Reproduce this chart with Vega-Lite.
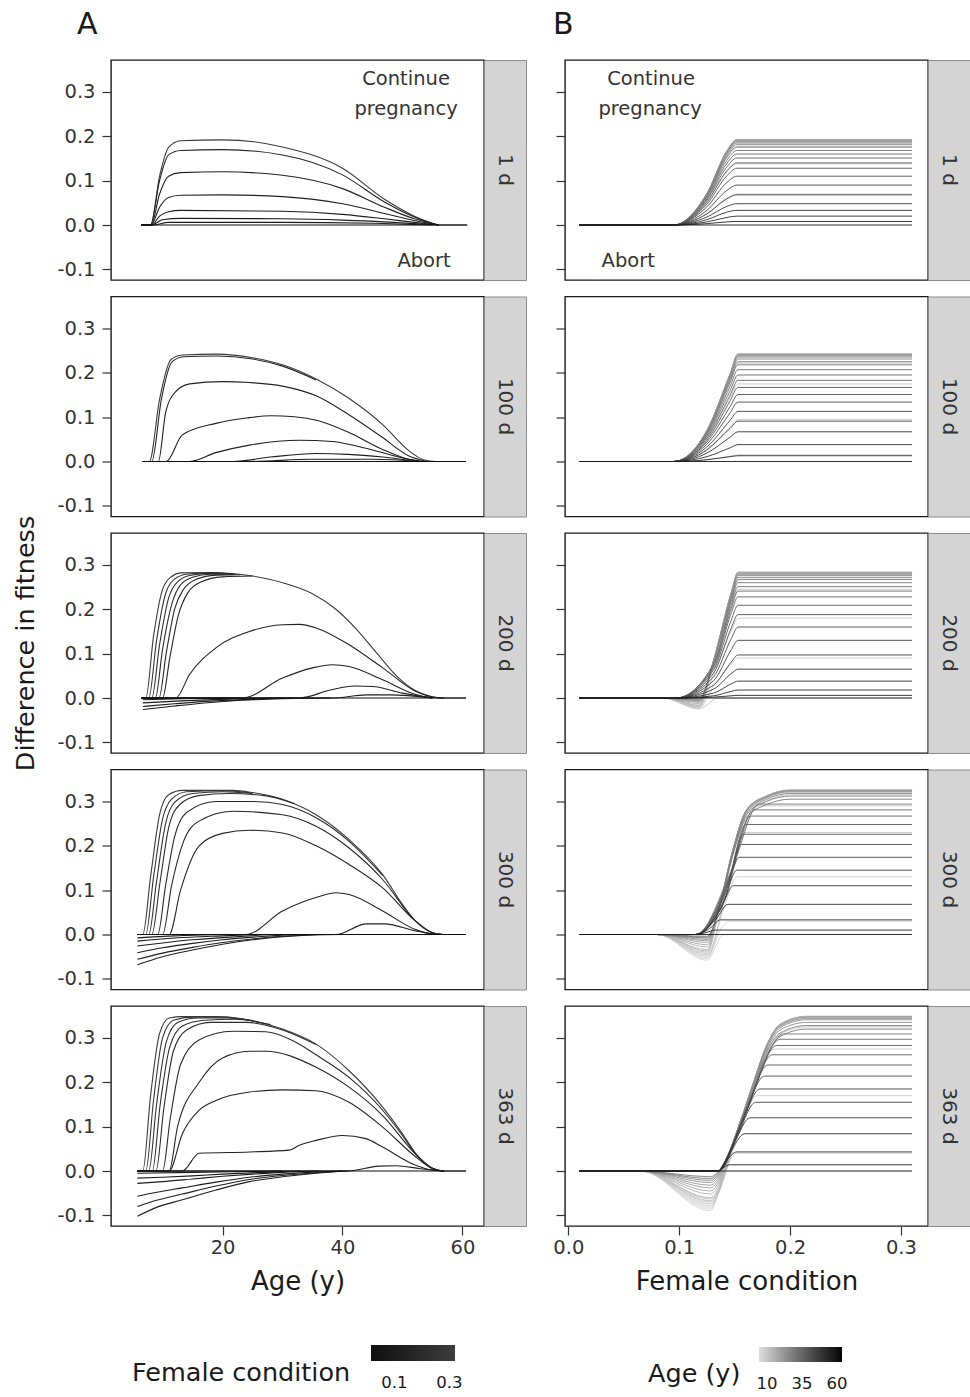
{
"$schema":"https://vega.github.io/schema/vega-lite/v6.json",
"background":"white",
"padding":{"left":13,"top":9,"right":0,"bottom":0},
"config":{"font":"DejaVu Sans","axis":{"grid":false,"domain":false,"tickColor":"#333","labelColor":"#333","titleColor":"#1a1a1a","labelFont":"DejaVu Sans","titleFont":"DejaVu Sans","titleFontWeight":"normal","labelFontSize":19.5,"tickSize":9,"tickWidth":1.2,"labelPadding":7},"legend":{"labelFont":"DejaVu Sans","titleFont":"DejaVu Sans"},"title":{"font":"DejaVu Sans"}},
"datasets":{
"A1":[
{"c":0.31,"a":6.4,"y":0},{"c":0.31,"a":8,"y":0},{"c":0.31,"a":9.5,"y":0.11},{"c":0.31,"a":11,"y":0.175},{"c":0.31,"a":13,"y":0.19},{"c":0.31,"a":20,"y":0.192},{"c":0.31,"a":30,"y":0.176},{"c":0.31,"a":40,"y":0.128},{"c":0.31,"a":47,"y":0.058},{"c":0.31,"a":52,"y":0.02},{"c":0.31,"a":56,"y":0},{"c":0.31,"a":60.8,"y":0},
{"c":0.15,"a":6.4,"y":0},{"c":0.15,"a":8,"y":0},{"c":0.15,"a":9.5,"y":0.1},{"c":0.15,"a":11,"y":0.158},{"c":0.15,"a":13,"y":0.168},{"c":0.15,"a":20,"y":0.17},{"c":0.15,"a":30,"y":0.158},{"c":0.15,"a":40,"y":0.113},{"c":0.15,"a":47,"y":0.052},{"c":0.15,"a":52,"y":0.018},{"c":0.15,"a":56,"y":0},
{"c":0.14,"a":6.4,"y":0},{"c":0.14,"a":8.1,"y":0},{"c":0.14,"a":9.5,"y":0.07},{"c":0.14,"a":11,"y":0.11},{"c":0.14,"a":13,"y":0.118},{"c":0.14,"a":20,"y":0.12},{"c":0.14,"a":30,"y":0.112},{"c":0.14,"a":40,"y":0.082},{"c":0.14,"a":47,"y":0.04},{"c":0.14,"a":52,"y":0.014},{"c":0.14,"a":56,"y":0},
{"c":0.13,"a":6.4,"y":0},{"c":0.13,"a":8.1,"y":0},{"c":0.13,"a":9.5,"y":0.04},{"c":0.13,"a":11,"y":0.062},{"c":0.13,"a":13,"y":0.067},{"c":0.13,"a":20,"y":0.068},{"c":0.13,"a":30,"y":0.064},{"c":0.13,"a":40,"y":0.048},{"c":0.13,"a":47,"y":0.026},{"c":0.13,"a":52,"y":0.01},{"c":0.13,"a":56,"y":0},
{"c":0.12,"a":6.4,"y":0},{"c":0.12,"a":8.2,"y":0},{"c":0.12,"a":9.5,"y":0.02},{"c":0.12,"a":11,"y":0.03},{"c":0.12,"a":13,"y":0.033},{"c":0.12,"a":30,"y":0.031},{"c":0.12,"a":40,"y":0.024},{"c":0.12,"a":47,"y":0.014},{"c":0.12,"a":52,"y":0.006},{"c":0.12,"a":56,"y":0},
{"c":0.11,"a":6.4,"y":0},{"c":0.11,"a":8.2,"y":0},{"c":0.11,"a":10,"y":0.012},{"c":0.11,"a":13,"y":0.015},{"c":0.11,"a":30,"y":0.014},{"c":0.11,"a":40,"y":0.011},{"c":0.11,"a":47,"y":0.007},{"c":0.11,"a":52,"y":0.003},{"c":0.11,"a":56,"y":0},
{"c":0.1,"a":6.4,"y":0},{"c":0.1,"a":8.3,"y":0},{"c":0.1,"a":11,"y":0.006},{"c":0.1,"a":30,"y":0.006},{"c":0.1,"a":45,"y":0.004},{"c":0.1,"a":55,"y":0},
{"c":0.01,"a":6.4,"y":0},{"c":0.01,"a":60.8,"y":0}
],
"A2":[
{"c":0.31,"a":6.7,"y":0},{"c":0.31,"a":7.8,"y":0},{"c":0.31,"a":9.5,"y":0.14},{"c":0.31,"a":11.4,"y":0.23},{"c":0.31,"a":13.3,"y":0.24},{"c":0.31,"a":19,"y":0.242},{"c":0.31,"a":25,"y":0.234},{"c":0.31,"a":30,"y":0.218},{"c":0.31,"a":35.6,"y":0.186},{"c":0.31,"a":41,"y":0.143},{"c":0.31,"a":46.7,"y":0.083},{"c":0.31,"a":51,"y":0.025},{"c":0.31,"a":53.5,"y":0.004},{"c":0.31,"a":55.5,"y":0},{"c":0.31,"a":60.6,"y":0},
{"c":0.16,"a":6.7,"y":0},{"c":0.16,"a":8.2,"y":0},{"c":0.16,"a":9.8,"y":0.14},{"c":0.16,"a":11.6,"y":0.225},{"c":0.16,"a":13.5,"y":0.236},{"c":0.16,"a":19,"y":0.238},{"c":0.16,"a":25,"y":0.231},{"c":0.16,"a":30,"y":0.215},{"c":0.16,"a":35.6,"y":0.184},
{"c":0.14,"a":6.7,"y":0},{"c":0.14,"a":9.3,"y":0},{"c":0.14,"a":10.5,"y":0.11},{"c":0.14,"a":11.7,"y":0.15},{"c":0.14,"a":14.5,"y":0.175},{"c":0.14,"a":20,"y":0.18},{"c":0.14,"a":24.5,"y":0.178},{"c":0.14,"a":30,"y":0.17},{"c":0.14,"a":35.6,"y":0.148},{"c":0.14,"a":41,"y":0.106},{"c":0.14,"a":46.7,"y":0.054},{"c":0.14,"a":51,"y":0.013},{"c":0.14,"a":54,"y":0},
{"c":0.13,"a":6.7,"y":0},{"c":0.13,"a":10.6,"y":0},{"c":0.13,"a":13.3,"y":0.06},{"c":0.13,"a":18.9,"y":0.086},{"c":0.13,"a":24,"y":0.098},{"c":0.13,"a":28,"y":0.103},{"c":0.13,"a":32,"y":0.101},{"c":0.13,"a":36,"y":0.092},{"c":0.13,"a":41,"y":0.066},{"c":0.13,"a":46.7,"y":0.027},{"c":0.13,"a":51,"y":0.005},{"c":0.13,"a":53,"y":0},
{"c":0.12,"a":6.7,"y":0},{"c":0.12,"a":14.5,"y":0},{"c":0.12,"a":18.9,"y":0.02},{"c":0.12,"a":24.5,"y":0.037},{"c":0.12,"a":32.8,"y":0.048},{"c":0.12,"a":38.3,"y":0.045},{"c":0.12,"a":43.9,"y":0.03},{"c":0.12,"a":49.4,"y":0.01},{"c":0.12,"a":53,"y":0},
{"c":0.11,"a":6.7,"y":0},{"c":0.11,"a":21.7,"y":0},{"c":0.11,"a":28,"y":0.01},{"c":0.11,"a":35.6,"y":0.018},{"c":0.11,"a":41,"y":0.016},{"c":0.11,"a":46.7,"y":0.01},{"c":0.11,"a":52,"y":0.002},{"c":0.11,"a":54,"y":0},
{"c":0.1,"a":6.7,"y":0},{"c":0.1,"a":24.5,"y":0},{"c":0.1,"a":35,"y":0.005},{"c":0.1,"a":45,"y":0.005},{"c":0.1,"a":53,"y":0},
{"c":0.01,"a":6.7,"y":0},{"c":0.01,"a":60.6,"y":0}
],
"A3":[
{"c":0.31,"a":6.5,"y":0},{"c":0.31,"a":7.2,"y":0},{"c":0.31,"a":8.5,"y":0.14},{"c":0.31,"a":10,"y":0.245},{"c":0.31,"a":11.5,"y":0.274},{"c":0.31,"a":13,"y":0.282},{"c":0.31,"a":18,"y":0.283},{"c":0.31,"a":25,"y":0.275},{"c":0.31,"a":30,"y":0.26},{"c":0.31,"a":35,"y":0.235},{"c":0.31,"a":38.9,"y":0.2},{"c":0.31,"a":42,"y":0.16},{"c":0.31,"a":45.8,"y":0.1},{"c":0.31,"a":49,"y":0.05},{"c":0.31,"a":52,"y":0.018},{"c":0.31,"a":55,"y":0.003},{"c":0.31,"a":56.5,"y":0},{"c":0.31,"a":60.6,"y":0},
{"c":0.26,"a":6.5,"y":0},{"c":0.26,"a":7.7,"y":0},{"c":0.26,"a":9,"y":0.13},{"c":0.26,"a":10.5,"y":0.235},{"c":0.26,"a":12,"y":0.268},{"c":0.26,"a":14,"y":0.279},{"c":0.26,"a":18,"y":0.282},{"c":0.26,"a":22,"y":0.279},
{"c":0.22,"a":6.5,"y":0},{"c":0.22,"a":8.2,"y":0},{"c":0.22,"a":9.5,"y":0.12},{"c":0.22,"a":11,"y":0.225},{"c":0.22,"a":12.5,"y":0.262},{"c":0.22,"a":14.5,"y":0.276},{"c":0.22,"a":18,"y":0.281},{"c":0.22,"a":22,"y":0.279},
{"c":0.19,"a":6.5,"y":0},{"c":0.19,"a":8.8,"y":0},{"c":0.19,"a":10,"y":0.11},{"c":0.19,"a":11.5,"y":0.21},{"c":0.19,"a":13,"y":0.255},{"c":0.19,"a":15,"y":0.272},{"c":0.19,"a":18,"y":0.279},{"c":0.19,"a":22,"y":0.279},
{"c":0.17,"a":6.5,"y":0},{"c":0.17,"a":9.4,"y":0},{"c":0.17,"a":10.6,"y":0.1},{"c":0.17,"a":12,"y":0.2},{"c":0.17,"a":13.5,"y":0.245},{"c":0.17,"a":15.5,"y":0.267},{"c":0.17,"a":19,"y":0.277},{"c":0.17,"a":23,"y":0.278},
{"c":0.16,"a":6.5,"y":0},{"c":0.16,"a":10,"y":0},{"c":0.16,"a":11.2,"y":0.09},{"c":0.16,"a":12.6,"y":0.185},{"c":0.16,"a":14.2,"y":0.237},{"c":0.16,"a":16.5,"y":0.262},{"c":0.16,"a":20,"y":0.273},{"c":0.16,"a":25,"y":0.275},
{"c":0.15,"a":6.5,"y":0},{"c":0.15,"a":12.2,"y":0},{"c":0.15,"a":14.5,"y":0.053},{"c":0.15,"a":18.9,"y":0.113},{"c":0.15,"a":24.5,"y":0.15},{"c":0.15,"a":30,"y":0.165},{"c":0.15,"a":32.8,"y":0.166},{"c":0.15,"a":35.6,"y":0.158},{"c":0.15,"a":41.1,"y":0.12},{"c":0.15,"a":46.7,"y":0.068},{"c":0.15,"a":52.2,"y":0.015},{"c":0.15,"a":55,"y":0.002},{"c":0.15,"a":57,"y":0},
{"c":0.14,"a":6.5,"y":0},{"c":0.14,"a":23.3,"y":0},{"c":0.14,"a":30,"y":0.045},{"c":0.14,"a":35,"y":0.068},{"c":0.14,"a":38.3,"y":0.075},{"c":0.14,"a":41.1,"y":0.071},{"c":0.14,"a":46.7,"y":0.041},{"c":0.14,"a":52.2,"y":0.008},{"c":0.14,"a":55,"y":0},
{"c":0.13,"a":6.5,"y":0},{"c":0.13,"a":32.8,"y":0},{"c":0.13,"a":38,"y":0.018},{"c":0.13,"a":42,"y":0.027},{"c":0.13,"a":45,"y":0.026},{"c":0.13,"a":50,"y":0.011},{"c":0.13,"a":55,"y":0},
{"c":0.12,"a":6.5,"y":0},{"c":0.12,"a":38.3,"y":0},{"c":0.12,"a":44,"y":0.007},{"c":0.12,"a":48,"y":0.007},{"c":0.12,"a":55,"y":0},
{"c":0.11,"a":6.7,"y":-0.026},{"c":0.11,"a":12,"y":-0.018},{"c":0.11,"a":18,"y":-0.01},{"c":0.11,"a":25,"y":-0.004},{"c":0.11,"a":32,"y":-0.001},{"c":0.11,"a":38,"y":0},
{"c":0.1,"a":6.7,"y":-0.019},{"c":0.1,"a":12,"y":-0.013},{"c":0.1,"a":18,"y":-0.007},{"c":0.1,"a":25,"y":-0.003},{"c":0.1,"a":32,"y":0},
{"c":0.09,"a":6.7,"y":-0.011},{"c":0.09,"a":14,"y":-0.006},{"c":0.09,"a":22,"y":-0.002},{"c":0.09,"a":30,"y":0},
{"c":0.08,"a":6.7,"y":-0.004},{"c":0.08,"a":15,"y":-0.001},{"c":0.08,"a":22,"y":0},
{"c":0.01,"a":6.5,"y":0},{"c":0.01,"a":60.6,"y":0}
],
"A4":[
{"c":0.31,"a":5.8,"y":0},{"c":0.31,"a":6.7,"y":0},{"c":0.31,"a":8,"y":0.13},{"c":0.31,"a":9.5,"y":0.27},{"c":0.31,"a":11,"y":0.315},{"c":0.31,"a":13.3,"y":0.325},{"c":0.31,"a":21.7,"y":0.325},{"c":0.31,"a":25,"y":0.32},{"c":0.31,"a":30,"y":0.305},{"c":0.31,"a":35.6,"y":0.27},{"c":0.31,"a":41.1,"y":0.214},{"c":0.31,"a":46.7,"y":0.135},{"c":0.31,"a":50,"y":0.068},{"c":0.31,"a":52.2,"y":0.03},{"c":0.31,"a":55,"y":0.004},{"c":0.31,"a":56.7,"y":0},{"c":0.31,"a":60.6,"y":0},
{"c":0.27,"a":5.8,"y":0},{"c":0.27,"a":7.2,"y":0},{"c":0.27,"a":8.5,"y":0.13},{"c":0.27,"a":10,"y":0.26},{"c":0.27,"a":11.5,"y":0.305},{"c":0.27,"a":14,"y":0.322},{"c":0.27,"a":20,"y":0.324},{"c":0.27,"a":25,"y":0.319},
{"c":0.24,"a":5.8,"y":0},{"c":0.24,"a":7.7,"y":0},{"c":0.24,"a":9,"y":0.12},{"c":0.24,"a":10.5,"y":0.25},{"c":0.24,"a":12,"y":0.298},{"c":0.24,"a":15,"y":0.318},{"c":0.24,"a":20,"y":0.322},{"c":0.24,"a":25,"y":0.318},
{"c":0.21,"a":5.8,"y":0},{"c":0.21,"a":8.2,"y":0},{"c":0.21,"a":9.6,"y":0.12},{"c":0.21,"a":11,"y":0.24},{"c":0.21,"a":12.8,"y":0.292},{"c":0.21,"a":16,"y":0.313},{"c":0.21,"a":21,"y":0.318},{"c":0.21,"a":27,"y":0.313},{"c":0.21,"a":32,"y":0.295},
{"c":0.18,"a":5.8,"y":0},{"c":0.18,"a":9.2,"y":0},{"c":0.18,"a":10.5,"y":0.11},{"c":0.18,"a":12,"y":0.22},{"c":0.18,"a":14,"y":0.275},{"c":0.18,"a":18.9,"y":0.3},{"c":0.18,"a":25,"y":0.3},{"c":0.18,"a":30,"y":0.293},{"c":0.18,"a":35.6,"y":0.263},{"c":0.18,"a":41.1,"y":0.21},{"c":0.18,"a":46.7,"y":0.133},
{"c":0.17,"a":5.8,"y":0},{"c":0.17,"a":10,"y":0},{"c":0.17,"a":11.5,"y":0.11},{"c":0.17,"a":13.5,"y":0.21},{"c":0.17,"a":16,"y":0.255},{"c":0.17,"a":21.7,"y":0.278},{"c":0.17,"a":30,"y":0.27},{"c":0.17,"a":35.6,"y":0.244},{"c":0.17,"a":41.1,"y":0.195},{"c":0.17,"a":46.7,"y":0.124},{"c":0.17,"a":52.2,"y":0.03},{"c":0.17,"a":55,"y":0.004},{"c":0.17,"a":56.7,"y":0},
{"c":0.16,"a":5.8,"y":0},{"c":0.16,"a":11.1,"y":0},{"c":0.16,"a":13,"y":0.1},{"c":0.16,"a":16.1,"y":0.2},{"c":0.16,"a":20,"y":0.228},{"c":0.16,"a":24.5,"y":0.235},{"c":0.16,"a":30,"y":0.229},{"c":0.16,"a":35.6,"y":0.2},{"c":0.16,"a":41.1,"y":0.158},{"c":0.16,"a":46.7,"y":0.105},{"c":0.16,"a":52.2,"y":0.03},{"c":0.16,"a":55,"y":0.004},{"c":0.16,"a":56.7,"y":0},
{"c":0.15,"a":5.8,"y":0},{"c":0.15,"a":23.9,"y":0},{"c":0.15,"a":30,"y":0.053},{"c":0.15,"a":36,"y":0.085},{"c":0.15,"a":38.9,"y":0.094},{"c":0.15,"a":41.1,"y":0.09},{"c":0.15,"a":46.7,"y":0.053},{"c":0.15,"a":52.2,"y":0.011},{"c":0.15,"a":55,"y":0.001},{"c":0.15,"a":57,"y":0},
{"c":0.14,"a":5.8,"y":0},{"c":0.14,"a":38.9,"y":0},{"c":0.14,"a":44,"y":0.024},{"c":0.14,"a":47,"y":0.024},{"c":0.14,"a":52.2,"y":0.008},{"c":0.14,"a":56,"y":0},
{"c":0.13,"a":5.8,"y":-0.068},{"c":0.13,"a":10,"y":-0.05},{"c":0.13,"a":15,"y":-0.035},{"c":0.13,"a":20,"y":-0.022},{"c":0.13,"a":25,"y":-0.012},{"c":0.13,"a":30,"y":-0.005},{"c":0.13,"a":35,"y":-0.001},{"c":0.13,"a":40,"y":0},
{"c":0.12,"a":5.8,"y":-0.056},{"c":0.12,"a":10,"y":-0.042},{"c":0.12,"a":15,"y":-0.029},{"c":0.12,"a":20,"y":-0.018},{"c":0.12,"a":25,"y":-0.01},{"c":0.12,"a":30,"y":-0.004},{"c":0.12,"a":36,"y":0},
{"c":0.11,"a":5.8,"y":-0.041},{"c":0.11,"a":10,"y":-0.03},{"c":0.11,"a":15,"y":-0.02},{"c":0.11,"a":20,"y":-0.012},{"c":0.11,"a":25,"y":-0.006},{"c":0.11,"a":32,"y":0},
{"c":0.1,"a":5.8,"y":-0.026},{"c":0.1,"a":10,"y":-0.019},{"c":0.1,"a":15,"y":-0.012},{"c":0.1,"a":20,"y":-0.007},{"c":0.1,"a":28,"y":0},
{"c":0.09,"a":5.8,"y":-0.015},{"c":0.09,"a":12,"y":-0.008},{"c":0.09,"a":20,"y":-0.003},{"c":0.09,"a":26,"y":0},
{"c":0.08,"a":5.8,"y":-0.0075},{"c":0.08,"a":12,"y":-0.003},{"c":0.08,"a":20,"y":0},
{"c":0.01,"a":5.8,"y":0},{"c":0.01,"a":60.6,"y":0}
],
"A5":[
{"c":0.31,"a":5.8,"y":0},{"c":0.31,"a":6.7,"y":0},{"c":0.31,"a":8,"y":0.17},{"c":0.31,"a":9.5,"y":0.31},{"c":0.31,"a":11.1,"y":0.345},{"c":0.31,"a":13.3,"y":0.348},{"c":0.31,"a":18.9,"y":0.348},{"c":0.31,"a":24.5,"y":0.34},{"c":0.31,"a":30,"y":0.32},{"c":0.31,"a":35.6,"y":0.286},{"c":0.31,"a":41.1,"y":0.226},{"c":0.31,"a":46.7,"y":0.144},{"c":0.31,"a":50,"y":0.084},{"c":0.31,"a":52.2,"y":0.04},{"c":0.31,"a":55,"y":0.006},{"c":0.31,"a":56.7,"y":0},{"c":0.31,"a":60.6,"y":0},
{"c":0.28,"a":5.8,"y":0},{"c":0.28,"a":7.2,"y":0},{"c":0.28,"a":8.5,"y":0.16},{"c":0.28,"a":10,"y":0.3},{"c":0.28,"a":11.8,"y":0.34},{"c":0.28,"a":15,"y":0.347},{"c":0.28,"a":20,"y":0.347},{"c":0.28,"a":25,"y":0.339},
{"c":0.25,"a":5.8,"y":0},{"c":0.25,"a":7.7,"y":0},{"c":0.25,"a":9,"y":0.15},{"c":0.25,"a":10.6,"y":0.29},{"c":0.25,"a":12.5,"y":0.335},{"c":0.25,"a":16,"y":0.345},{"c":0.25,"a":21,"y":0.345},{"c":0.25,"a":26,"y":0.336},
{"c":0.22,"a":5.8,"y":0},{"c":0.22,"a":8.3,"y":0},{"c":0.22,"a":9.6,"y":0.15},{"c":0.22,"a":11.2,"y":0.28},{"c":0.22,"a":13.3,"y":0.327},{"c":0.22,"a":17,"y":0.34},{"c":0.22,"a":22,"y":0.342},{"c":0.22,"a":28,"y":0.33},
{"c":0.2,"a":5.8,"y":0},{"c":0.2,"a":8.9,"y":0},{"c":0.2,"a":10.2,"y":0.14},{"c":0.2,"a":11.8,"y":0.27},{"c":0.2,"a":14,"y":0.318},{"c":0.2,"a":18,"y":0.335},{"c":0.2,"a":24,"y":0.335},{"c":0.2,"a":30,"y":0.318},{"c":0.2,"a":35.6,"y":0.285},
{"c":0.18,"a":5.8,"y":0},{"c":0.18,"a":10,"y":0},{"c":0.18,"a":11.3,"y":0.12},{"c":0.18,"a":13,"y":0.24},{"c":0.18,"a":16,"y":0.295},{"c":0.18,"a":21.7,"y":0.315},{"c":0.18,"a":27.2,"y":0.314},{"c":0.18,"a":32,"y":0.292},{"c":0.18,"a":35.6,"y":0.262},{"c":0.18,"a":41.1,"y":0.211},{"c":0.18,"a":46.7,"y":0.137},{"c":0.18,"a":50,"y":0.08},{"c":0.18,"a":52.2,"y":0.038},{"c":0.18,"a":55,"y":0.006},{"c":0.18,"a":56.7,"y":0},
{"c":0.17,"a":5.8,"y":0},{"c":0.17,"a":11.1,"y":0},{"c":0.17,"a":12.5,"y":0.1},{"c":0.17,"a":16.1,"y":0.2},{"c":0.17,"a":20,"y":0.255},{"c":0.17,"a":24.5,"y":0.27},{"c":0.17,"a":27.2,"y":0.27},{"c":0.17,"a":35.6,"y":0.234},{"c":0.17,"a":41.1,"y":0.189},{"c":0.17,"a":46.7,"y":0.125},{"c":0.17,"a":52.2,"y":0.038},{"c":0.17,"a":55,"y":0.006},{"c":0.17,"a":56.7,"y":0},
{"c":0.16,"a":5.8,"y":0},{"c":0.16,"a":11.1,"y":0},{"c":0.16,"a":13.3,"y":0.084},{"c":0.16,"a":16.1,"y":0.137},{"c":0.16,"a":18.9,"y":0.159},{"c":0.16,"a":24.5,"y":0.178},{"c":0.16,"a":30,"y":0.183},{"c":0.16,"a":35.6,"y":0.181},{"c":0.16,"a":41.1,"y":0.155},{"c":0.16,"a":46.7,"y":0.099},{"c":0.16,"a":52.2,"y":0.032},{"c":0.16,"a":55,"y":0.005},{"c":0.16,"a":56.7,"y":0},
{"c":0.15,"a":5.8,"y":0},{"c":0.15,"a":13.3,"y":0},{"c":0.15,"a":16.1,"y":0.04},{"c":0.15,"a":24.5,"y":0.043},{"c":0.15,"a":31.1,"y":0.047},{"c":0.15,"a":32.8,"y":0.058},{"c":0.15,"a":35.6,"y":0.069},{"c":0.15,"a":40,"y":0.08},{"c":0.15,"a":43.9,"y":0.073},{"c":0.15,"a":46.7,"y":0.054},{"c":0.15,"a":52.2,"y":0.013},{"c":0.15,"a":55,"y":0.002},{"c":0.15,"a":57,"y":0},
{"c":0.14,"a":5.8,"y":0},{"c":0.14,"a":41,"y":0},{"c":0.14,"a":46,"y":0.011},{"c":0.14,"a":49,"y":0.012},{"c":0.14,"a":53,"y":0.005},{"c":0.14,"a":57,"y":0},
{"c":0.13,"a":5.8,"y":-0.102},{"c":0.13,"a":9,"y":-0.082},{"c":0.13,"a":13.3,"y":-0.065},{"c":0.13,"a":18.9,"y":-0.043},{"c":0.13,"a":24.5,"y":-0.024},{"c":0.13,"a":30,"y":-0.013},{"c":0.13,"a":35.6,"y":-0.005},{"c":0.13,"a":41,"y":0},
{"c":0.12,"a":5.8,"y":-0.08},{"c":0.12,"a":9,"y":-0.066},{"c":0.12,"a":13.3,"y":-0.052},{"c":0.12,"a":18.9,"y":-0.034},{"c":0.12,"a":24.5,"y":-0.019},{"c":0.12,"a":30,"y":-0.01},{"c":0.12,"a":35.6,"y":-0.004},{"c":0.12,"a":40,"y":0},
{"c":0.11,"a":5.8,"y":-0.057},{"c":0.11,"a":9,"y":-0.048},{"c":0.11,"a":13.3,"y":-0.038},{"c":0.11,"a":18.9,"y":-0.025},{"c":0.11,"a":24.5,"y":-0.014},{"c":0.11,"a":30,"y":-0.007},{"c":0.11,"a":36,"y":-0.002},{"c":0.11,"a":40,"y":0},
{"c":0.1,"a":5.8,"y":-0.028},{"c":0.1,"a":10,"y":-0.024},{"c":0.1,"a":15,"y":-0.018},{"c":0.1,"a":20,"y":-0.012},{"c":0.1,"a":25,"y":-0.007},{"c":0.1,"a":30,"y":-0.003},{"c":0.1,"a":36,"y":0},
{"c":0.09,"a":5.8,"y":-0.016},{"c":0.09,"a":10,"y":-0.014},{"c":0.09,"a":15,"y":-0.011},{"c":0.09,"a":20,"y":-0.007},{"c":0.09,"a":27,"y":-0.003},{"c":0.09,"a":33,"y":0},
{"c":0.08,"a":5.8,"y":-0.005},{"c":0.08,"a":15,"y":-0.003},{"c":0.08,"a":25,"y":-0.001},{"c":0.08,"a":30,"y":0},
{"c":0.01,"a":5.8,"y":0},{"c":0.01,"a":60.6,"y":0}
],
"B1":[
{"a":9,"c":0.01,"y":0},{"a":9,"c":0.095,"y":0},{"a":9,"c":0.125,"y":0.026},{"a":9,"c":0.143,"y":0.061},{"a":9,"c":0.152,"y":0.07},{"a":9,"c":0.31,"y":0.07},
{"a":10,"c":0.01,"y":0},{"a":10,"c":0.095,"y":0},{"a":10,"c":0.125,"y":0.051},{"a":10,"c":0.143,"y":0.12},{"a":10,"c":0.152,"y":0.138},{"a":10,"c":0.31,"y":0.138},
{"a":11,"c":0.01,"y":0},{"a":11,"c":0.095,"y":0},{"a":11,"c":0.125,"y":0.065},{"a":11,"c":0.143,"y":0.152},{"a":11,"c":0.152,"y":0.175},{"a":11,"c":0.31,"y":0.175},
{"a":12,"c":0.01,"y":0},{"a":12,"c":0.095,"y":0},{"a":12,"c":0.125,"y":0.068},{"a":12,"c":0.143,"y":0.161},{"a":12,"c":0.152,"y":0.185},{"a":12,"c":0.31,"y":0.185},
{"a":13,"c":0.01,"y":0},{"a":13,"c":0.095,"y":0},{"a":13,"c":0.125,"y":0.07},{"a":13,"c":0.143,"y":0.165},{"a":13,"c":0.152,"y":0.19},{"a":13,"c":0.31,"y":0.19},
{"a":14,"c":0.01,"y":0},{"a":14,"c":0.095,"y":0},{"a":14,"c":0.125,"y":0.071},{"a":14,"c":0.143,"y":0.166},{"a":14,"c":0.152,"y":0.191},{"a":14,"c":0.31,"y":0.191},
{"a":16,"c":0.01,"y":0},{"a":16,"c":0.095,"y":0},{"a":16,"c":0.125,"y":0.071},{"a":16,"c":0.143,"y":0.168},{"a":16,"c":0.152,"y":0.193},{"a":16,"c":0.31,"y":0.193},
{"a":18,"c":0.01,"y":0},{"a":18,"c":0.095,"y":0},{"a":18,"c":0.125,"y":0.071},{"a":18,"c":0.143,"y":0.167},{"a":18,"c":0.152,"y":0.192},{"a":18,"c":0.31,"y":0.192},
{"a":20,"c":0.01,"y":0},{"a":20,"c":0.095,"y":0},{"a":20,"c":0.125,"y":0.071},{"a":20,"c":0.143,"y":0.166},{"a":20,"c":0.152,"y":0.191},{"a":20,"c":0.31,"y":0.191},
{"a":22,"c":0.01,"y":0},{"a":22,"c":0.095,"y":0},{"a":22,"c":0.125,"y":0.07},{"a":22,"c":0.143,"y":0.165},{"a":22,"c":0.152,"y":0.19},{"a":22,"c":0.31,"y":0.19},
{"a":24,"c":0.01,"y":0},{"a":24,"c":0.095,"y":0},{"a":24,"c":0.125,"y":0.07},{"a":24,"c":0.143,"y":0.164},{"a":24,"c":0.152,"y":0.188},{"a":24,"c":0.31,"y":0.188},
{"a":26,"c":0.01,"y":0},{"a":26,"c":0.095,"y":0},{"a":26,"c":0.125,"y":0.068},{"a":26,"c":0.143,"y":0.161},{"a":26,"c":0.152,"y":0.185},{"a":26,"c":0.31,"y":0.185},
{"a":28,"c":0.01,"y":0},{"a":28,"c":0.095,"y":0},{"a":28,"c":0.125,"y":0.067},{"a":28,"c":0.143,"y":0.157},{"a":28,"c":0.152,"y":0.181},{"a":28,"c":0.31,"y":0.181},
{"a":30,"c":0.01,"y":0},{"a":30,"c":0.095,"y":0},{"a":30,"c":0.125,"y":0.065},{"a":30,"c":0.143,"y":0.153},{"a":30,"c":0.152,"y":0.176},{"a":30,"c":0.31,"y":0.176},
{"a":32,"c":0.01,"y":0},{"a":32,"c":0.095,"y":0},{"a":32,"c":0.125,"y":0.062},{"a":32,"c":0.143,"y":0.146},{"a":32,"c":0.152,"y":0.168},{"a":32,"c":0.31,"y":0.168},
{"a":34,"c":0.01,"y":0},{"a":34,"c":0.095,"y":0},{"a":34,"c":0.125,"y":0.059},{"a":34,"c":0.143,"y":0.139},{"a":34,"c":0.152,"y":0.16},{"a":34,"c":0.31,"y":0.16},
{"a":36,"c":0.01,"y":0},{"a":36,"c":0.095,"y":0},{"a":36,"c":0.125,"y":0.056},{"a":36,"c":0.143,"y":0.131},{"a":36,"c":0.152,"y":0.151},{"a":36,"c":0.31,"y":0.151},
{"a":38,"c":0.01,"y":0},{"a":38,"c":0.095,"y":0},{"a":38,"c":0.125,"y":0.052},{"a":38,"c":0.143,"y":0.122},{"a":38,"c":0.152,"y":0.14},{"a":38,"c":0.31,"y":0.14},
{"a":40,"c":0.01,"y":0},{"a":40,"c":0.095,"y":0},{"a":40,"c":0.125,"y":0.047},{"a":40,"c":0.143,"y":0.111},{"a":40,"c":0.152,"y":0.128},{"a":40,"c":0.31,"y":0.128},
{"a":42,"c":0.01,"y":0},{"a":42,"c":0.095,"y":0},{"a":42,"c":0.125,"y":0.041},{"a":42,"c":0.143,"y":0.096},{"a":42,"c":0.152,"y":0.11},{"a":42,"c":0.31,"y":0.11},
{"a":44,"c":0.01,"y":0},{"a":44,"c":0.095,"y":0},{"a":44,"c":0.125,"y":0.033},{"a":44,"c":0.143,"y":0.078},{"a":44,"c":0.152,"y":0.09},{"a":44,"c":0.31,"y":0.09},
{"a":46,"c":0.01,"y":0},{"a":46,"c":0.095,"y":0},{"a":46,"c":0.125,"y":0.025},{"a":46,"c":0.143,"y":0.059},{"a":46,"c":0.152,"y":0.068},{"a":46,"c":0.31,"y":0.068},
{"a":48,"c":0.01,"y":0},{"a":48,"c":0.095,"y":0},{"a":48,"c":0.125,"y":0.018},{"a":48,"c":0.143,"y":0.042},{"a":48,"c":0.152,"y":0.048},{"a":48,"c":0.31,"y":0.048},
{"a":50,"c":0.01,"y":0},{"a":50,"c":0.095,"y":0},{"a":50,"c":0.125,"y":0.012},{"a":50,"c":0.143,"y":0.029},{"a":50,"c":0.152,"y":0.033},{"a":50,"c":0.31,"y":0.033},
{"a":52,"c":0.01,"y":0},{"a":52,"c":0.095,"y":0},{"a":52,"c":0.125,"y":0.007},{"a":52,"c":0.143,"y":0.017},{"a":52,"c":0.152,"y":0.02},{"a":52,"c":0.31,"y":0.02},
{"a":54,"c":0.01,"y":0},{"a":54,"c":0.095,"y":0},{"a":54,"c":0.125,"y":0.003},{"a":54,"c":0.143,"y":0.007},{"a":54,"c":0.152,"y":0.008},{"a":54,"c":0.31,"y":0.008},
{"a":58,"c":0.01,"y":0},{"a":58,"c":0.31,"y":0}
],
"B2":[
{"a":8,"c":0.01,"y":0},{"a":8,"c":0.095,"y":0},{"a":8,"c":0.125,"y":0.004},{"a":8,"c":0.146,"y":0.012},{"a":8,"c":0.153,"y":0.015},{"a":8,"c":0.31,"y":0.015},
{"a":9,"c":0.01,"y":0},{"a":9,"c":0.095,"y":0},{"a":9,"c":0.125,"y":0.028},{"a":9,"c":0.146,"y":0.078},{"a":9,"c":0.153,"y":0.095},{"a":9,"c":0.31,"y":0.095},
{"a":10,"c":0.01,"y":0},{"a":10,"c":0.095,"y":0},{"a":10,"c":0.125,"y":0.051},{"a":10,"c":0.146,"y":0.144},{"a":10,"c":0.153,"y":0.175},{"a":10,"c":0.31,"y":0.175},
{"a":11,"c":0.01,"y":0},{"a":11,"c":0.095,"y":0},{"a":11,"c":0.125,"y":0.064},{"a":11,"c":0.146,"y":0.182},{"a":11,"c":0.153,"y":0.222},{"a":11,"c":0.31,"y":0.222},
{"a":12,"c":0.01,"y":0},{"a":12,"c":0.095,"y":0},{"a":12,"c":0.125,"y":0.068},{"a":12,"c":0.146,"y":0.193},{"a":12,"c":0.153,"y":0.235},{"a":12,"c":0.31,"y":0.235},
{"a":13,"c":0.01,"y":0},{"a":13,"c":0.095,"y":0},{"a":13,"c":0.125,"y":0.07},{"a":13,"c":0.146,"y":0.197},{"a":13,"c":0.153,"y":0.24},{"a":13,"c":0.31,"y":0.24},
{"a":14,"c":0.01,"y":0},{"a":14,"c":0.095,"y":0},{"a":14,"c":0.125,"y":0.07},{"a":14,"c":0.146,"y":0.198},{"a":14,"c":0.153,"y":0.241},{"a":14,"c":0.31,"y":0.241},
{"a":16,"c":0.01,"y":0},{"a":16,"c":0.095,"y":0},{"a":16,"c":0.125,"y":0.07},{"a":16,"c":0.146,"y":0.199},{"a":16,"c":0.153,"y":0.243},{"a":16,"c":0.31,"y":0.243},
{"a":18,"c":0.01,"y":0},{"a":18,"c":0.095,"y":0},{"a":18,"c":0.125,"y":0.07},{"a":18,"c":0.146,"y":0.198},{"a":18,"c":0.153,"y":0.242},{"a":18,"c":0.31,"y":0.242},
{"a":20,"c":0.01,"y":0},{"a":20,"c":0.095,"y":0},{"a":20,"c":0.125,"y":0.07},{"a":20,"c":0.146,"y":0.198},{"a":20,"c":0.153,"y":0.241},{"a":20,"c":0.31,"y":0.241},
{"a":22,"c":0.01,"y":0},{"a":22,"c":0.095,"y":0},{"a":22,"c":0.125,"y":0.069},{"a":22,"c":0.146,"y":0.196},{"a":22,"c":0.153,"y":0.239},{"a":22,"c":0.31,"y":0.239},
{"a":24,"c":0.01,"y":0},{"a":24,"c":0.095,"y":0},{"a":24,"c":0.125,"y":0.068},{"a":24,"c":0.146,"y":0.194},{"a":24,"c":0.153,"y":0.236},{"a":24,"c":0.31,"y":0.236},
{"a":26,"c":0.01,"y":0},{"a":26,"c":0.095,"y":0},{"a":26,"c":0.125,"y":0.067},{"a":26,"c":0.146,"y":0.189},{"a":26,"c":0.153,"y":0.231},{"a":26,"c":0.31,"y":0.231},
{"a":28,"c":0.01,"y":0},{"a":28,"c":0.095,"y":0},{"a":28,"c":0.125,"y":0.065},{"a":28,"c":0.146,"y":0.185},{"a":28,"c":0.153,"y":0.225},{"a":28,"c":0.31,"y":0.225},
{"a":30,"c":0.01,"y":0},{"a":30,"c":0.095,"y":0},{"a":30,"c":0.125,"y":0.063},{"a":30,"c":0.146,"y":0.179},{"a":30,"c":0.153,"y":0.218},{"a":30,"c":0.31,"y":0.218},
{"a":32,"c":0.01,"y":0},{"a":32,"c":0.095,"y":0},{"a":32,"c":0.125,"y":0.06},{"a":32,"c":0.146,"y":0.17},{"a":32,"c":0.153,"y":0.207},{"a":32,"c":0.31,"y":0.207},
{"a":34,"c":0.01,"y":0},{"a":34,"c":0.095,"y":0},{"a":34,"c":0.125,"y":0.057},{"a":34,"c":0.146,"y":0.16},{"a":34,"c":0.153,"y":0.195},{"a":34,"c":0.31,"y":0.195},
{"a":36,"c":0.01,"y":0},{"a":36,"c":0.095,"y":0},{"a":36,"c":0.125,"y":0.053},{"a":36,"c":0.146,"y":0.15},{"a":36,"c":0.153,"y":0.183},{"a":36,"c":0.31,"y":0.183},
{"a":38,"c":0.01,"y":0},{"a":38,"c":0.095,"y":0},{"a":38,"c":0.125,"y":0.048},{"a":38,"c":0.146,"y":0.137},{"a":38,"c":0.153,"y":0.167},{"a":38,"c":0.31,"y":0.167},
{"a":40,"c":0.01,"y":0},{"a":40,"c":0.095,"y":0},{"a":40,"c":0.125,"y":0.044},{"a":40,"c":0.146,"y":0.124},{"a":40,"c":0.153,"y":0.151},{"a":40,"c":0.31,"y":0.151},
{"a":42,"c":0.01,"y":0},{"a":42,"c":0.095,"y":0},{"a":42,"c":0.125,"y":0.039},{"a":42,"c":0.146,"y":0.11},{"a":42,"c":0.153,"y":0.134},{"a":42,"c":0.31,"y":0.134},
{"a":44,"c":0.01,"y":0},{"a":44,"c":0.095,"y":0},{"a":44,"c":0.125,"y":0.033},{"a":44,"c":0.146,"y":0.093},{"a":44,"c":0.153,"y":0.113},{"a":44,"c":0.31,"y":0.113},
{"a":46,"c":0.01,"y":0},{"a":46,"c":0.095,"y":0},{"a":46,"c":0.125,"y":0.026},{"a":46,"c":0.146,"y":0.075},{"a":46,"c":0.153,"y":0.091},{"a":46,"c":0.31,"y":0.091},
{"a":48,"c":0.01,"y":0},{"a":48,"c":0.095,"y":0},{"a":48,"c":0.125,"y":0.019},{"a":48,"c":0.146,"y":0.055},{"a":48,"c":0.153,"y":0.067},{"a":48,"c":0.31,"y":0.067},
{"a":50,"c":0.01,"y":0},{"a":50,"c":0.095,"y":0},{"a":50,"c":0.125,"y":0.011},{"a":50,"c":0.146,"y":0.031},{"a":50,"c":0.153,"y":0.038},{"a":50,"c":0.31,"y":0.038},
{"a":52,"c":0.01,"y":0},{"a":52,"c":0.095,"y":0},{"a":52,"c":0.125,"y":0.004},{"a":52,"c":0.146,"y":0.011},{"a":52,"c":0.153,"y":0.013},{"a":52,"c":0.31,"y":0.013},
{"a":58,"c":0.01,"y":0},{"a":58,"c":0.31,"y":0}
],
"B3":[
{"a":6,"c":0.01,"y":0},{"a":6,"c":0.085,"y":0},{"a":6,"c":0.118,"y":-0.025},{"a":6,"c":0.135,"y":0},{"a":6,"c":0.31,"y":0},
{"a":7,"c":0.01,"y":0},{"a":7,"c":0.085,"y":0},{"a":7,"c":0.118,"y":-0.024},{"a":7,"c":0.135,"y":0},{"a":7,"c":0.31,"y":0},
{"a":8,"c":0.01,"y":0},{"a":8,"c":0.085,"y":0},{"a":8,"c":0.118,"y":-0.023},{"a":8,"c":0.131,"y":0.027},{"a":8,"c":0.147,"y":0.076},{"a":8,"c":0.153,"y":0.09},{"a":8,"c":0.31,"y":0.09},
{"a":9,"c":0.01,"y":0},{"a":9,"c":0.085,"y":0},{"a":9,"c":0.118,"y":-0.022},{"a":9,"c":0.131,"y":0.054},{"a":9,"c":0.147,"y":0.151},{"a":9,"c":0.153,"y":0.18},{"a":9,"c":0.31,"y":0.18},
{"a":10,"c":0.01,"y":0},{"a":10,"c":0.085,"y":0},{"a":10,"c":0.118,"y":-0.021},{"a":10,"c":0.131,"y":0.074},{"a":10,"c":0.147,"y":0.206},{"a":10,"c":0.153,"y":0.245},{"a":10,"c":0.31,"y":0.245},
{"a":11,"c":0.01,"y":0},{"a":11,"c":0.085,"y":0},{"a":11,"c":0.118,"y":-0.02},{"a":11,"c":0.131,"y":0.08},{"a":11,"c":0.147,"y":0.225},{"a":11,"c":0.153,"y":0.268},{"a":11,"c":0.31,"y":0.268},
{"a":12,"c":0.01,"y":0},{"a":12,"c":0.085,"y":0},{"a":12,"c":0.118,"y":-0.018},{"a":12,"c":0.131,"y":0.083},{"a":12,"c":0.147,"y":0.234},{"a":12,"c":0.153,"y":0.278},{"a":12,"c":0.31,"y":0.278},
{"a":13,"c":0.01,"y":0},{"a":13,"c":0.085,"y":0},{"a":13,"c":0.118,"y":-0.017},{"a":13,"c":0.131,"y":0.085},{"a":13,"c":0.147,"y":0.237},{"a":13,"c":0.153,"y":0.282},{"a":13,"c":0.31,"y":0.282},
{"a":14,"c":0.01,"y":0},{"a":14,"c":0.085,"y":0},{"a":14,"c":0.118,"y":-0.016},{"a":14,"c":0.131,"y":0.085},{"a":14,"c":0.147,"y":0.238},{"a":14,"c":0.153,"y":0.283},{"a":14,"c":0.31,"y":0.283},
{"a":16,"c":0.01,"y":0},{"a":16,"c":0.085,"y":0},{"a":16,"c":0.118,"y":-0.013},{"a":16,"c":0.131,"y":0.085},{"a":16,"c":0.147,"y":0.239},{"a":16,"c":0.153,"y":0.284},{"a":16,"c":0.31,"y":0.284},
{"a":18,"c":0.01,"y":0},{"a":18,"c":0.085,"y":0},{"a":18,"c":0.118,"y":-0.01},{"a":18,"c":0.131,"y":0.085},{"a":18,"c":0.147,"y":0.238},{"a":18,"c":0.153,"y":0.283},{"a":18,"c":0.31,"y":0.283},
{"a":20,"c":0.01,"y":0},{"a":20,"c":0.085,"y":0},{"a":20,"c":0.118,"y":-0.008},{"a":20,"c":0.131,"y":0.084},{"a":20,"c":0.147,"y":0.236},{"a":20,"c":0.153,"y":0.281},{"a":20,"c":0.31,"y":0.281},
{"a":22,"c":0.01,"y":0},{"a":22,"c":0.085,"y":0},{"a":22,"c":0.118,"y":-0.006},{"a":22,"c":0.131,"y":0.084},{"a":22,"c":0.147,"y":0.234},{"a":22,"c":0.153,"y":0.279},{"a":22,"c":0.31,"y":0.279},
{"a":24,"c":0.01,"y":0},{"a":24,"c":0.085,"y":0},{"a":24,"c":0.118,"y":-0.005},{"a":24,"c":0.131,"y":0.083},{"a":24,"c":0.147,"y":0.232},{"a":24,"c":0.153,"y":0.276},{"a":24,"c":0.31,"y":0.276},
{"a":26,"c":0.01,"y":0},{"a":26,"c":0.085,"y":0},{"a":26,"c":0.118,"y":-0.003},{"a":26,"c":0.131,"y":0.082},{"a":26,"c":0.147,"y":0.228},{"a":26,"c":0.153,"y":0.272},{"a":26,"c":0.31,"y":0.272},
{"a":28,"c":0.01,"y":0},{"a":28,"c":0.085,"y":0},{"a":28,"c":0.118,"y":-0.002},{"a":28,"c":0.131,"y":0.08},{"a":28,"c":0.147,"y":0.224},{"a":28,"c":0.153,"y":0.267},{"a":28,"c":0.31,"y":0.267},
{"a":30,"c":0.01,"y":0},{"a":30,"c":0.097,"y":0},{"a":30,"c":0.131,"y":0.078},{"a":30,"c":0.147,"y":0.218},{"a":30,"c":0.153,"y":0.26},{"a":30,"c":0.31,"y":0.26},
{"a":32,"c":0.01,"y":0},{"a":32,"c":0.097,"y":0},{"a":32,"c":0.131,"y":0.075},{"a":32,"c":0.147,"y":0.211},{"a":32,"c":0.153,"y":0.251},{"a":32,"c":0.31,"y":0.251},
{"a":34,"c":0.01,"y":0},{"a":34,"c":0.097,"y":0},{"a":34,"c":0.131,"y":0.072},{"a":34,"c":0.147,"y":0.202},{"a":34,"c":0.153,"y":0.241},{"a":34,"c":0.31,"y":0.241},
{"a":36,"c":0.01,"y":0},{"a":36,"c":0.097,"y":0},{"a":36,"c":0.131,"y":0.068},{"a":36,"c":0.147,"y":0.192},{"a":36,"c":0.153,"y":0.228},{"a":36,"c":0.31,"y":0.228},
{"a":38,"c":0.01,"y":0},{"a":38,"c":0.097,"y":0},{"a":38,"c":0.131,"y":0.063},{"a":38,"c":0.147,"y":0.176},{"a":38,"c":0.153,"y":0.209},{"a":38,"c":0.31,"y":0.209},
{"a":40,"c":0.01,"y":0},{"a":40,"c":0.097,"y":0},{"a":40,"c":0.131,"y":0.056},{"a":40,"c":0.147,"y":0.158},{"a":40,"c":0.153,"y":0.188},{"a":40,"c":0.31,"y":0.188},
{"a":42,"c":0.01,"y":0},{"a":42,"c":0.097,"y":0},{"a":42,"c":0.131,"y":0.048},{"a":42,"c":0.147,"y":0.134},{"a":42,"c":0.153,"y":0.16},{"a":42,"c":0.31,"y":0.16},
{"a":44,"c":0.01,"y":0},{"a":44,"c":0.097,"y":0},{"a":44,"c":0.131,"y":0.039},{"a":44,"c":0.147,"y":0.109},{"a":44,"c":0.153,"y":0.13},{"a":44,"c":0.31,"y":0.13},
{"a":46,"c":0.01,"y":0},{"a":46,"c":0.097,"y":0},{"a":46,"c":0.131,"y":0.029},{"a":46,"c":0.147,"y":0.081},{"a":46,"c":0.153,"y":0.097},{"a":46,"c":0.31,"y":0.097},
{"a":48,"c":0.01,"y":0},{"a":48,"c":0.097,"y":0},{"a":48,"c":0.131,"y":0.02},{"a":48,"c":0.147,"y":0.055},{"a":48,"c":0.153,"y":0.065},{"a":48,"c":0.31,"y":0.065},
{"a":50,"c":0.01,"y":0},{"a":50,"c":0.097,"y":0},{"a":50,"c":0.131,"y":0.011},{"a":50,"c":0.147,"y":0.032},{"a":50,"c":0.153,"y":0.038},{"a":50,"c":0.31,"y":0.038},
{"a":52,"c":0.01,"y":0},{"a":52,"c":0.097,"y":0},{"a":52,"c":0.131,"y":0.005},{"a":52,"c":0.147,"y":0.015},{"a":52,"c":0.153,"y":0.018},{"a":52,"c":0.31,"y":0.018},
{"a":54,"c":0.01,"y":0},{"a":54,"c":0.097,"y":0},{"a":54,"c":0.131,"y":0.002},{"a":54,"c":0.147,"y":0.005},{"a":54,"c":0.153,"y":0.006},{"a":54,"c":0.31,"y":0.006},
{"a":58,"c":0.01,"y":0},{"a":58,"c":0.31,"y":0}
],
"B4":[
{"a":6,"c":0.01,"y":0},{"a":6,"c":0.08,"y":0},{"a":6,"c":0.125,"y":-0.058},{"a":6,"c":0.14,"y":0},{"a":6,"c":0.31,"y":0},
{"a":7,"c":0.01,"y":0},{"a":7,"c":0.08,"y":0},{"a":7,"c":0.125,"y":-0.055},{"a":7,"c":0.137,"y":0.01},{"a":7,"c":0.145,"y":0.03},{"a":7,"c":0.31,"y":0.03},
{"a":8,"c":0.01,"y":0},{"a":8,"c":0.08,"y":0},{"a":8,"c":0.125,"y":-0.052},{"a":8,"c":0.141,"y":0.065},{"a":8,"c":0.152,"y":0.13},{"a":8,"c":0.31,"y":0.13},
{"a":9,"c":0.01,"y":0},{"a":9,"c":0.08,"y":0},{"a":9,"c":0.125,"y":-0.049},{"a":9,"c":0.144,"y":0.115},{"a":9,"c":0.158,"y":0.23},{"a":9,"c":0.31,"y":0.23},
{"a":10,"c":0.01,"y":0},{"a":10,"c":0.08,"y":0},{"a":10,"c":0.125,"y":-0.046},{"a":10,"c":0.147,"y":0.145},{"a":10,"c":0.172,"y":0.29},{"a":10,"c":0.31,"y":0.29},
{"a":11,"c":0.01,"y":0},{"a":11,"c":0.08,"y":0},{"a":11,"c":0.125,"y":-0.043},{"a":11,"c":0.137,"y":0.069},{"a":11,"c":0.148,"y":0.181},{"a":11,"c":0.161,"y":0.273},{"a":11,"c":0.179,"y":0.302},{"a":11,"c":0.2,"y":0.315},{"a":11,"c":0.31,"y":0.315},
{"a":12,"c":0.01,"y":0},{"a":12,"c":0.08,"y":0},{"a":12,"c":0.125,"y":-0.04},{"a":12,"c":0.137,"y":0.07},{"a":12,"c":0.148,"y":0.185},{"a":12,"c":0.161,"y":0.279},{"a":12,"c":0.179,"y":0.308},{"a":12,"c":0.2,"y":0.321},{"a":12,"c":0.31,"y":0.321},
{"a":13,"c":0.01,"y":0},{"a":13,"c":0.08,"y":0},{"a":13,"c":0.125,"y":-0.037},{"a":13,"c":0.137,"y":0.071},{"a":13,"c":0.148,"y":0.186},{"a":13,"c":0.161,"y":0.281},{"a":13,"c":0.179,"y":0.311},{"a":13,"c":0.2,"y":0.324},{"a":13,"c":0.31,"y":0.324},
{"a":14,"c":0.01,"y":0},{"a":14,"c":0.08,"y":0},{"a":14,"c":0.125,"y":-0.034},{"a":14,"c":0.137,"y":0.071},{"a":14,"c":0.148,"y":0.187},{"a":14,"c":0.161,"y":0.282},{"a":14,"c":0.179,"y":0.312},{"a":14,"c":0.2,"y":0.325},{"a":14,"c":0.31,"y":0.325},
{"a":16,"c":0.01,"y":0},{"a":16,"c":0.08,"y":0},{"a":16,"c":0.125,"y":-0.028},{"a":16,"c":0.137,"y":0.071},{"a":16,"c":0.148,"y":0.187},{"a":16,"c":0.161,"y":0.283},{"a":16,"c":0.179,"y":0.313},{"a":16,"c":0.2,"y":0.326},{"a":16,"c":0.31,"y":0.326},
{"a":18,"c":0.01,"y":0},{"a":18,"c":0.08,"y":0},{"a":18,"c":0.125,"y":-0.023},{"a":18,"c":0.137,"y":0.071},{"a":18,"c":0.148,"y":0.187},{"a":18,"c":0.161,"y":0.282},{"a":18,"c":0.179,"y":0.312},{"a":18,"c":0.2,"y":0.325},{"a":18,"c":0.31,"y":0.325},
{"a":20,"c":0.01,"y":0},{"a":20,"c":0.08,"y":0},{"a":20,"c":0.125,"y":-0.018},{"a":20,"c":0.137,"y":0.071},{"a":20,"c":0.148,"y":0.187},{"a":20,"c":0.161,"y":0.282},{"a":20,"c":0.179,"y":0.312},{"a":20,"c":0.2,"y":0.325},{"a":20,"c":0.31,"y":0.325},
{"a":22,"c":0.01,"y":0},{"a":22,"c":0.08,"y":0},{"a":22,"c":0.125,"y":-0.014},{"a":22,"c":0.137,"y":0.071},{"a":22,"c":0.148,"y":0.186},{"a":22,"c":0.161,"y":0.281},{"a":22,"c":0.179,"y":0.311},{"a":22,"c":0.2,"y":0.324},{"a":22,"c":0.31,"y":0.324},
{"a":24,"c":0.01,"y":0},{"a":24,"c":0.08,"y":0},{"a":24,"c":0.125,"y":-0.011},{"a":24,"c":0.137,"y":0.07},{"a":24,"c":0.148,"y":0.185},{"a":24,"c":0.161,"y":0.279},{"a":24,"c":0.179,"y":0.309},{"a":24,"c":0.2,"y":0.322},{"a":24,"c":0.31,"y":0.322},
{"a":26,"c":0.01,"y":0},{"a":26,"c":0.08,"y":0},{"a":26,"c":0.125,"y":-0.008},{"a":26,"c":0.137,"y":0.069},{"a":26,"c":0.148,"y":0.183},{"a":26,"c":0.161,"y":0.276},{"a":26,"c":0.179,"y":0.305},{"a":26,"c":0.2,"y":0.318},{"a":26,"c":0.31,"y":0.318},
{"a":28,"c":0.01,"y":0},{"a":28,"c":0.08,"y":0},{"a":28,"c":0.125,"y":-0.006},{"a":28,"c":0.137,"y":0.068},{"a":28,"c":0.148,"y":0.179},{"a":28,"c":0.161,"y":0.271},{"a":28,"c":0.179,"y":0.3},{"a":28,"c":0.2,"y":0.312},{"a":28,"c":0.31,"y":0.312},
{"a":30,"c":0.01,"y":0},{"a":30,"c":0.08,"y":0},{"a":30,"c":0.125,"y":-0.004},{"a":30,"c":0.137,"y":0.066},{"a":30,"c":0.148,"y":0.175},{"a":30,"c":0.161,"y":0.265},{"a":30,"c":0.179,"y":0.293},{"a":30,"c":0.2,"y":0.305},{"a":30,"c":0.31,"y":0.305},
{"a":32,"c":0.01,"y":0},{"a":32,"c":0.115,"y":0},{"a":32,"c":0.1475,"y":0.147},{"a":32,"c":0.172,"y":0.294},{"a":32,"c":0.31,"y":0.294},
{"a":34,"c":0.01,"y":0},{"a":34,"c":0.115,"y":0},{"a":34,"c":0.147,"y":0.1405},{"a":34,"c":0.167,"y":0.281},{"a":34,"c":0.31,"y":0.281},
{"a":36,"c":0.01,"y":0},{"a":36,"c":0.115,"y":0},{"a":36,"c":0.146,"y":0.1335},{"a":36,"c":0.164,"y":0.267},{"a":36,"c":0.31,"y":0.267},
{"a":38,"c":0.01,"y":0},{"a":38,"c":0.115,"y":0},{"a":38,"c":0.145,"y":0.124},{"a":38,"c":0.16,"y":0.248},{"a":38,"c":0.31,"y":0.248},
{"a":40,"c":0.01,"y":0},{"a":40,"c":0.115,"y":0},{"a":40,"c":0.144,"y":0.113},{"a":40,"c":0.158,"y":0.226},{"a":40,"c":0.31,"y":0.226},
{"a":42,"c":0.01,"y":0},{"a":42,"c":0.115,"y":0},{"a":42,"c":0.143,"y":0.1015},{"a":42,"c":0.156,"y":0.203},{"a":42,"c":0.31,"y":0.203},
{"a":44,"c":0.01,"y":0},{"a":44,"c":0.115,"y":0},{"a":44,"c":0.142,"y":0.087},{"a":44,"c":0.154,"y":0.174},{"a":44,"c":0.31,"y":0.174},
{"a":46,"c":0.01,"y":0},{"a":46,"c":0.115,"y":0},{"a":46,"c":0.14,"y":0.0725},{"a":46,"c":0.152,"y":0.145},{"a":46,"c":0.31,"y":0.145},
{"a":48,"c":0.01,"y":0},{"a":48,"c":0.115,"y":0},{"a":48,"c":0.137,"y":0.055},{"a":48,"c":0.149,"y":0.11},{"a":48,"c":0.31,"y":0.11},
{"a":50,"c":0.01,"y":0},{"a":50,"c":0.115,"y":0},{"a":50,"c":0.133,"y":0.034},{"a":50,"c":0.144,"y":0.068},{"a":50,"c":0.31,"y":0.068},
{"a":52,"c":0.01,"y":0},{"a":52,"c":0.115,"y":0},{"a":52,"c":0.129,"y":0.0165},{"a":52,"c":0.137,"y":0.033},{"a":52,"c":0.31,"y":0.033},
{"a":54,"c":0.01,"y":0},{"a":54,"c":0.115,"y":0},{"a":54,"c":0.125,"y":0.005},{"a":54,"c":0.132,"y":0.01},{"a":54,"c":0.31,"y":0.01},
{"a":58,"c":0.01,"y":0},{"a":58,"c":0.31,"y":0}
],
"B5":[
{"a":6,"c":0.01,"y":0},{"a":6,"c":0.065,"y":0},{"a":6,"c":0.128,"y":-0.09},{"a":6,"c":0.142,"y":0},{"a":6,"c":0.31,"y":0},
{"a":7,"c":0.01,"y":0},{"a":7,"c":0.065,"y":0},{"a":7,"c":0.128,"y":-0.086},{"a":7,"c":0.145,"y":0.02},{"a":7,"c":0.152,"y":0.04},{"a":7,"c":0.31,"y":0.04},
{"a":8,"c":0.01,"y":0},{"a":8,"c":0.065,"y":0},{"a":8,"c":0.128,"y":-0.082},{"a":8,"c":0.142,"y":0},{"a":8,"c":0.153,"y":0.085},{"a":8,"c":0.171,"y":0.17},{"a":8,"c":0.31,"y":0.17},
{"a":9,"c":0.01,"y":0},{"a":9,"c":0.065,"y":0},{"a":9,"c":0.128,"y":-0.078},{"a":9,"c":0.142,"y":0},{"a":9,"c":0.161,"y":0.1375},{"a":9,"c":0.186,"y":0.275},{"a":9,"c":0.31,"y":0.275},
{"a":10,"c":0.01,"y":0},{"a":10,"c":0.065,"y":0},{"a":10,"c":0.128,"y":-0.074},{"a":10,"c":0.155,"y":0.104},{"a":10,"c":0.167,"y":0.187},{"a":10,"c":0.179,"y":0.265},{"a":10,"c":0.191,"y":0.308},{"a":10,"c":0.215,"y":0.325},{"a":10,"c":0.31,"y":0.325},
{"a":11,"c":0.01,"y":0},{"a":11,"c":0.065,"y":0},{"a":11,"c":0.128,"y":-0.07},{"a":11,"c":0.155,"y":0.11},{"a":11,"c":0.167,"y":0.198},{"a":11,"c":0.179,"y":0.281},{"a":11,"c":0.191,"y":0.326},{"a":11,"c":0.215,"y":0.344},{"a":11,"c":0.31,"y":0.344},
{"a":12,"c":0.01,"y":0},{"a":12,"c":0.065,"y":0},{"a":12,"c":0.128,"y":-0.067},{"a":12,"c":0.155,"y":0.111},{"a":12,"c":0.167,"y":0.199},{"a":12,"c":0.179,"y":0.283},{"a":12,"c":0.191,"y":0.329},{"a":12,"c":0.215,"y":0.347},{"a":12,"c":0.31,"y":0.347},
{"a":13,"c":0.01,"y":0},{"a":13,"c":0.065,"y":0},{"a":13,"c":0.128,"y":-0.063},{"a":13,"c":0.155,"y":0.111},{"a":13,"c":0.167,"y":0.2},{"a":13,"c":0.179,"y":0.284},{"a":13,"c":0.191,"y":0.33},{"a":13,"c":0.215,"y":0.348},{"a":13,"c":0.31,"y":0.348},
{"a":14,"c":0.01,"y":0},{"a":14,"c":0.065,"y":0},{"a":14,"c":0.128,"y":-0.06},{"a":14,"c":0.155,"y":0.111},{"a":14,"c":0.167,"y":0.2},{"a":14,"c":0.179,"y":0.284},{"a":14,"c":0.191,"y":0.33},{"a":14,"c":0.215,"y":0.348},{"a":14,"c":0.31,"y":0.348},
{"a":16,"c":0.01,"y":0},{"a":16,"c":0.065,"y":0},{"a":16,"c":0.128,"y":-0.052},{"a":16,"c":0.155,"y":0.111},{"a":16,"c":0.167,"y":0.2},{"a":16,"c":0.179,"y":0.285},{"a":16,"c":0.191,"y":0.331},{"a":16,"c":0.215,"y":0.349},{"a":16,"c":0.31,"y":0.349},
{"a":18,"c":0.01,"y":0},{"a":18,"c":0.065,"y":0},{"a":18,"c":0.128,"y":-0.045},{"a":18,"c":0.155,"y":0.111},{"a":18,"c":0.167,"y":0.2},{"a":18,"c":0.179,"y":0.284},{"a":18,"c":0.191,"y":0.33},{"a":18,"c":0.215,"y":0.348},{"a":18,"c":0.31,"y":0.348},
{"a":20,"c":0.01,"y":0},{"a":20,"c":0.065,"y":0},{"a":20,"c":0.128,"y":-0.038},{"a":20,"c":0.155,"y":0.111},{"a":20,"c":0.167,"y":0.199},{"a":20,"c":0.179,"y":0.283},{"a":20,"c":0.191,"y":0.329},{"a":20,"c":0.215,"y":0.347},{"a":20,"c":0.31,"y":0.347},
{"a":22,"c":0.01,"y":0},{"a":22,"c":0.065,"y":0},{"a":22,"c":0.128,"y":-0.032},{"a":22,"c":0.155,"y":0.11},{"a":22,"c":0.167,"y":0.198},{"a":22,"c":0.179,"y":0.281},{"a":22,"c":0.191,"y":0.326},{"a":22,"c":0.215,"y":0.344},{"a":22,"c":0.31,"y":0.344},
{"a":24,"c":0.01,"y":0},{"a":24,"c":0.065,"y":0},{"a":24,"c":0.128,"y":-0.026},{"a":24,"c":0.155,"y":0.109},{"a":24,"c":0.167,"y":0.196},{"a":24,"c":0.179,"y":0.278},{"a":24,"c":0.191,"y":0.323},{"a":24,"c":0.215,"y":0.341},{"a":24,"c":0.31,"y":0.341},
{"a":26,"c":0.01,"y":0},{"a":26,"c":0.065,"y":0},{"a":26,"c":0.128,"y":-0.021},{"a":26,"c":0.155,"y":0.107},{"a":26,"c":0.167,"y":0.193},{"a":26,"c":0.179,"y":0.273},{"a":26,"c":0.191,"y":0.318},{"a":26,"c":0.215,"y":0.335},{"a":26,"c":0.31,"y":0.335},
{"a":28,"c":0.01,"y":0},{"a":28,"c":0.065,"y":0},{"a":28,"c":0.128,"y":-0.017},{"a":28,"c":0.155,"y":0.105},{"a":28,"c":0.167,"y":0.189},{"a":28,"c":0.179,"y":0.268},{"a":28,"c":0.191,"y":0.311},{"a":28,"c":0.215,"y":0.328},{"a":28,"c":0.31,"y":0.328},
{"a":30,"c":0.01,"y":0},{"a":30,"c":0.065,"y":0},{"a":30,"c":0.128,"y":-0.013},{"a":30,"c":0.155,"y":0.102},{"a":30,"c":0.167,"y":0.184},{"a":30,"c":0.179,"y":0.261},{"a":30,"c":0.191,"y":0.303},{"a":30,"c":0.215,"y":0.32},{"a":30,"c":0.31,"y":0.32},
{"a":32,"c":0.01,"y":0},{"a":32,"c":0.135,"y":0},{"a":32,"c":0.163,"y":0.1545},{"a":32,"c":0.194,"y":0.309},{"a":32,"c":0.31,"y":0.309},
{"a":34,"c":0.01,"y":0},{"a":34,"c":0.135,"y":0},{"a":34,"c":0.162,"y":0.1485},{"a":34,"c":0.191,"y":0.297},{"a":34,"c":0.31,"y":0.297},
{"a":36,"c":0.01,"y":0},{"a":36,"c":0.135,"y":0},{"a":36,"c":0.161,"y":0.1415},{"a":36,"c":0.188,"y":0.283},{"a":36,"c":0.31,"y":0.283},
{"a":38,"c":0.01,"y":0},{"a":38,"c":0.135,"y":0},{"a":38,"c":0.16,"y":0.131},{"a":38,"c":0.184,"y":0.262},{"a":38,"c":0.31,"y":0.262},
{"a":40,"c":0.01,"y":0},{"a":40,"c":0.135,"y":0},{"a":40,"c":0.158,"y":0.1195},{"a":40,"c":0.18,"y":0.239},{"a":40,"c":0.31,"y":0.239},
{"a":42,"c":0.01,"y":0},{"a":42,"c":0.135,"y":0},{"a":42,"c":0.156,"y":0.107},{"a":42,"c":0.177,"y":0.214},{"a":42,"c":0.31,"y":0.214},
{"a":44,"c":0.01,"y":0},{"a":44,"c":0.135,"y":0},{"a":44,"c":0.154,"y":0.0925},{"a":44,"c":0.173,"y":0.185},{"a":44,"c":0.31,"y":0.185},
{"a":46,"c":0.01,"y":0},{"a":46,"c":0.135,"y":0},{"a":46,"c":0.152,"y":0.0775},{"a":46,"c":0.169,"y":0.155},{"a":46,"c":0.31,"y":0.155},
{"a":48,"c":0.01,"y":0},{"a":48,"c":0.135,"y":0},{"a":48,"c":0.149,"y":0.06},{"a":48,"c":0.164,"y":0.12},{"a":48,"c":0.31,"y":0.12},
{"a":50,"c":0.01,"y":0},{"a":50,"c":0.135,"y":0},{"a":50,"c":0.146,"y":0.042},{"a":50,"c":0.159,"y":0.084},{"a":50,"c":0.31,"y":0.084},
{"a":52,"c":0.01,"y":0},{"a":52,"c":0.135,"y":0},{"a":52,"c":0.142,"y":0.0215},{"a":52,"c":0.152,"y":0.043},{"a":52,"c":0.31,"y":0.043},
{"a":54,"c":0.01,"y":0},{"a":54,"c":0.135,"y":0},{"a":54,"c":0.139,"y":0.007},{"a":54,"c":0.146,"y":0.014},{"a":54,"c":0.31,"y":0.014},
{"a":58,"c":0.01,"y":0},{"a":58,"c":0.31,"y":0}
]
},
"columns":5,
"spacing":{"row":16.5,"column":0},
"bounds":"flush",
"resolve":{"scale":{"x":"independent","y":"independent","color":"independent"},"legend":{"color":"independent"}},
"concat":[
  {"width":373,"height":220,"view":{"stroke":"#1a1a1a","strokeWidth":1.4,"fill":"white"},
   "title":{"text":"A","anchor":"start","frame":"group","dx":-34,"offset":20,"fontSize":30,"fontWeight":"normal","color":"#1a1a1a"},
   "encoding":{"x":{"field":"a","type":"quantitative","scale":{"domain":[1.4,63.6],"nice":false,"zero":false},"axis":null},
     "y":{"field":"y","type":"quantitative","scale":{"domain":[-0.124,0.372],"nice":false,"zero":false},"axis":{"values":[-0.1,0,0.1,0.2,0.3],"labelExpr":"datum.value < 0 ? '-' + format(-datum.value, '.1f') : format(datum.value, '.1f')","title":null}}},
   "layer":[
    {"data":{"name":"A1"},"mark":{"type":"line","interpolate":"monotone","strokeWidth":1.1},"encoding":{"color":{"field":"c","type":"quantitative","scale":{"domain":[0.015,0.32],"range":["#0f0f0f","#3d3d3d"]},"legend":null},"detail":{"field":"c","type":"nominal"}}},
    {"data":{"values":[{"a":50.6,"y":0.33,"t":"Continue"},{"a":50.6,"y":0.262,"t":"pregnancy"},{"a":53.6,"y":-0.081,"t":"Abort"}]},"mark":{"type":"text","fontSize":19.5,"color":"#333","align":"center","baseline":"middle"},"encoding":{"text":{"field":"t"}}}
   ]},
  {"width":42,"height":220,"view":{"fill":"#d4d4d4","stroke":"#8c8c8c","strokeWidth":1},"data":{"values":[{"lab":"1 d","px":0.5,"py":0.5}]},"mark":{"type":"text","angle":90,"fontSize":20,"color":"#333","align":"center","baseline":"middle"},"encoding":{"x":{"field":"px","type":"quantitative","scale":{"domain":[0,1]},"axis":null},"y":{"field":"py","type":"quantitative","scale":{"domain":[0,1]},"axis":null},"text":{"field":"lab"}}},
  {"width":38.3,"height":220,"view":{"stroke":null,"fill":null},"data":{"values":[{"px":0}]},"mark":{"type":"point","opacity":0},"encoding":{"x":{"field":"px","type":"quantitative","axis":null}}},
  {"width":363,"height":220,"view":{"stroke":"#1a1a1a","strokeWidth":1.4,"fill":"white"},
   "title":{"text":"B","anchor":"start","frame":"group","dx":-12,"offset":20,"fontSize":30,"fontWeight":"normal","color":"#1a1a1a"},
   "encoding":{"x":{"field":"c","type":"quantitative","scale":{"domain":[-0.003,0.3244],"nice":false,"zero":false},"axis":null},
     "y":{"field":"y","type":"quantitative","scale":{"domain":[-0.124,0.372],"nice":false,"zero":false},"axis":{"values":[-0.1,0,0.1,0.2,0.3],"labels":false,"title":null}}},
   "layer":[
    {"data":{"name":"B1"},"mark":{"type":"line","interpolate":"monotone","strokeWidth":0.9},"encoding":{"color":{"field":"a","type":"quantitative","scale":{"domain":[4.3,63.5],"range":["#dedede","#000000"],"interpolate":"lab"},"legend":null},"detail":{"field":"a","type":"nominal"}}},
    {"data":{"values":[{"c":0.0746,"y":0.33,"t":"Continue"},{"c":0.0737,"y":0.262,"t":"pregnancy"},{"c":0.054,"y":-0.081,"t":"Abort"}]},"mark":{"type":"text","fontSize":19.5,"color":"#333","align":"center","baseline":"middle"},"encoding":{"text":{"field":"t"}}}
   ]},
  {"width":42,"height":220,"view":{"fill":"#d4d4d4","stroke":"#8c8c8c","strokeWidth":1},"data":{"values":[{"lab":"1 d","px":0.5,"py":0.5}]},"mark":{"type":"text","angle":90,"fontSize":20,"color":"#333","align":"center","baseline":"middle"},"encoding":{"x":{"field":"px","type":"quantitative","scale":{"domain":[0,1]},"axis":null},"y":{"field":"py","type":"quantitative","scale":{"domain":[0,1]},"axis":null},"text":{"field":"lab"}}},

  {"width":373,"height":220,"view":{"stroke":"#1a1a1a","strokeWidth":1.4,"fill":"white"},
   "encoding":{"x":{"field":"a","type":"quantitative","scale":{"domain":[1.4,63.6],"nice":false,"zero":false},"axis":null},
     "y":{"field":"y","type":"quantitative","scale":{"domain":[-0.124,0.372],"nice":false,"zero":false},"axis":{"values":[-0.1,0,0.1,0.2,0.3],"labelExpr":"datum.value < 0 ? '-' + format(-datum.value, '.1f') : format(datum.value, '.1f')","title":null}}},
   "layer":[
    {"data":{"name":"A2"},"mark":{"type":"line","interpolate":"monotone","strokeWidth":1.1},"encoding":{"color":{"field":"c","type":"quantitative","scale":{"domain":[0.015,0.32],"range":["#0f0f0f","#3d3d3d"]},"legend":null},"detail":{"field":"c","type":"nominal"}}}
   ]},
  {"width":42,"height":220,"view":{"fill":"#d4d4d4","stroke":"#8c8c8c","strokeWidth":1},"data":{"values":[{"lab":"100 d","px":0.5,"py":0.5}]},"mark":{"type":"text","angle":90,"fontSize":20,"color":"#333","align":"center","baseline":"middle"},"encoding":{"x":{"field":"px","type":"quantitative","scale":{"domain":[0,1]},"axis":null},"y":{"field":"py","type":"quantitative","scale":{"domain":[0,1]},"axis":null},"text":{"field":"lab"}}},
  {"width":38.3,"height":220,"view":{"stroke":null,"fill":null},"data":{"values":[{"px":0}]},"mark":{"type":"point","opacity":0},"encoding":{"x":{"field":"px","type":"quantitative","axis":null}}},
  {"width":363,"height":220,"view":{"stroke":"#1a1a1a","strokeWidth":1.4,"fill":"white"},
   "encoding":{"x":{"field":"c","type":"quantitative","scale":{"domain":[-0.003,0.3244],"nice":false,"zero":false},"axis":null},
     "y":{"field":"y","type":"quantitative","scale":{"domain":[-0.124,0.372],"nice":false,"zero":false},"axis":{"values":[-0.1,0,0.1,0.2,0.3],"labels":false,"title":null}}},
   "layer":[
    {"data":{"name":"B2"},"mark":{"type":"line","interpolate":"monotone","strokeWidth":0.9},"encoding":{"color":{"field":"a","type":"quantitative","scale":{"domain":[4.3,63.5],"range":["#dedede","#000000"],"interpolate":"lab"},"legend":null},"detail":{"field":"a","type":"nominal"}}}
   ]},
  {"width":42,"height":220,"view":{"fill":"#d4d4d4","stroke":"#8c8c8c","strokeWidth":1},"data":{"values":[{"lab":"100 d","px":0.5,"py":0.5}]},"mark":{"type":"text","angle":90,"fontSize":20,"color":"#333","align":"center","baseline":"middle"},"encoding":{"x":{"field":"px","type":"quantitative","scale":{"domain":[0,1]},"axis":null},"y":{"field":"py","type":"quantitative","scale":{"domain":[0,1]},"axis":null},"text":{"field":"lab"}}},

  {"width":373,"height":220,"view":{"stroke":"#1a1a1a","strokeWidth":1.4,"fill":"white"},
   "encoding":{"x":{"field":"a","type":"quantitative","scale":{"domain":[1.4,63.6],"nice":false,"zero":false},"axis":null},
     "y":{"field":"y","type":"quantitative","scale":{"domain":[-0.124,0.372],"nice":false,"zero":false},"axis":{"values":[-0.1,0,0.1,0.2,0.3],"labelExpr":"datum.value < 0 ? '-' + format(-datum.value, '.1f') : format(datum.value, '.1f')","title":"Difference in fitness","titleFontSize":25.5,"titlePadding":18}}},
   "layer":[
    {"data":{"name":"A3"},"mark":{"type":"line","interpolate":"monotone","strokeWidth":1.1},"encoding":{"color":{"field":"c","type":"quantitative","scale":{"domain":[0.015,0.32],"range":["#0f0f0f","#3d3d3d"]},"legend":null},"detail":{"field":"c","type":"nominal"}}}
   ]},
  {"width":42,"height":220,"view":{"fill":"#d4d4d4","stroke":"#8c8c8c","strokeWidth":1},"data":{"values":[{"lab":"200 d","px":0.5,"py":0.5}]},"mark":{"type":"text","angle":90,"fontSize":20,"color":"#333","align":"center","baseline":"middle"},"encoding":{"x":{"field":"px","type":"quantitative","scale":{"domain":[0,1]},"axis":null},"y":{"field":"py","type":"quantitative","scale":{"domain":[0,1]},"axis":null},"text":{"field":"lab"}}},
  {"width":38.3,"height":220,"view":{"stroke":null,"fill":null},"data":{"values":[{"px":0}]},"mark":{"type":"point","opacity":0},"encoding":{"x":{"field":"px","type":"quantitative","axis":null}}},
  {"width":363,"height":220,"view":{"stroke":"#1a1a1a","strokeWidth":1.4,"fill":"white"},
   "encoding":{"x":{"field":"c","type":"quantitative","scale":{"domain":[-0.003,0.3244],"nice":false,"zero":false},"axis":null},
     "y":{"field":"y","type":"quantitative","scale":{"domain":[-0.124,0.372],"nice":false,"zero":false},"axis":{"values":[-0.1,0,0.1,0.2,0.3],"labels":false,"title":null}}},
   "layer":[
    {"data":{"name":"B3"},"mark":{"type":"line","interpolate":"monotone","strokeWidth":0.9},"encoding":{"color":{"field":"a","type":"quantitative","scale":{"domain":[4.3,63.5],"range":["#dedede","#000000"],"interpolate":"lab"},"legend":null},"detail":{"field":"a","type":"nominal"}}}
   ]},
  {"width":42,"height":220,"view":{"fill":"#d4d4d4","stroke":"#8c8c8c","strokeWidth":1},"data":{"values":[{"lab":"200 d","px":0.5,"py":0.5}]},"mark":{"type":"text","angle":90,"fontSize":20,"color":"#333","align":"center","baseline":"middle"},"encoding":{"x":{"field":"px","type":"quantitative","scale":{"domain":[0,1]},"axis":null},"y":{"field":"py","type":"quantitative","scale":{"domain":[0,1]},"axis":null},"text":{"field":"lab"}}},

  {"width":373,"height":220,"view":{"stroke":"#1a1a1a","strokeWidth":1.4,"fill":"white"},
   "encoding":{"x":{"field":"a","type":"quantitative","scale":{"domain":[1.4,63.6],"nice":false,"zero":false},"axis":null},
     "y":{"field":"y","type":"quantitative","scale":{"domain":[-0.124,0.372],"nice":false,"zero":false},"axis":{"values":[-0.1,0,0.1,0.2,0.3],"labelExpr":"datum.value < 0 ? '-' + format(-datum.value, '.1f') : format(datum.value, '.1f')","title":null}}},
   "layer":[
    {"data":{"name":"A4"},"mark":{"type":"line","interpolate":"monotone","strokeWidth":1.1},"encoding":{"color":{"field":"c","type":"quantitative","scale":{"domain":[0.015,0.32],"range":["#0f0f0f","#3d3d3d"]},"legend":null},"detail":{"field":"c","type":"nominal"}}}
   ]},
  {"width":42,"height":220,"view":{"fill":"#d4d4d4","stroke":"#8c8c8c","strokeWidth":1},"data":{"values":[{"lab":"300 d","px":0.5,"py":0.5}]},"mark":{"type":"text","angle":90,"fontSize":20,"color":"#333","align":"center","baseline":"middle"},"encoding":{"x":{"field":"px","type":"quantitative","scale":{"domain":[0,1]},"axis":null},"y":{"field":"py","type":"quantitative","scale":{"domain":[0,1]},"axis":null},"text":{"field":"lab"}}},
  {"width":38.3,"height":220,"view":{"stroke":null,"fill":null},"data":{"values":[{"px":0}]},"mark":{"type":"point","opacity":0},"encoding":{"x":{"field":"px","type":"quantitative","axis":null}}},
  {"width":363,"height":220,"view":{"stroke":"#1a1a1a","strokeWidth":1.4,"fill":"white"},
   "encoding":{"x":{"field":"c","type":"quantitative","scale":{"domain":[-0.003,0.3244],"nice":false,"zero":false},"axis":null},
     "y":{"field":"y","type":"quantitative","scale":{"domain":[-0.124,0.372],"nice":false,"zero":false},"axis":{"values":[-0.1,0,0.1,0.2,0.3],"labels":false,"title":null}}},
   "layer":[
    {"data":{"name":"B4"},"mark":{"type":"line","interpolate":"monotone","strokeWidth":0.9},"encoding":{"color":{"field":"a","type":"quantitative","scale":{"domain":[4.3,63.5],"range":["#dedede","#000000"],"interpolate":"lab"},"legend":null},"detail":{"field":"a","type":"nominal"}}}
   ]},
  {"width":42,"height":220,"view":{"fill":"#d4d4d4","stroke":"#8c8c8c","strokeWidth":1},"data":{"values":[{"lab":"300 d","px":0.5,"py":0.5}]},"mark":{"type":"text","angle":90,"fontSize":20,"color":"#333","align":"center","baseline":"middle"},"encoding":{"x":{"field":"px","type":"quantitative","scale":{"domain":[0,1]},"axis":null},"y":{"field":"py","type":"quantitative","scale":{"domain":[0,1]},"axis":null},"text":{"field":"lab"}}},

  {"width":373,"height":220,"view":{"stroke":"#1a1a1a","strokeWidth":1.4,"fill":"white"},
   "encoding":{"x":{"field":"a","type":"quantitative","scale":{"domain":[1.4,63.6],"nice":false,"zero":false},"axis":{"values":[20,40,60],"title":"Age (y)","titleFontSize":26,"titlePadding":12,"labelPadding":3}},
     "y":{"field":"y","type":"quantitative","scale":{"domain":[-0.124,0.372],"nice":false,"zero":false},"axis":{"values":[-0.1,0,0.1,0.2,0.3],"labelExpr":"datum.value < 0 ? '-' + format(-datum.value, '.1f') : format(datum.value, '.1f')","title":null}}},
   "layer":[
    {"data":{"name":"A5"},"mark":{"type":"line","interpolate":"monotone","strokeWidth":1.1},"encoding":{"color":{"field":"c","type":"quantitative","scale":{"domain":[0.015,0.32],"range":["#0f0f0f","#3d3d3d"]},"legend":{"type":"gradient","orient":"none","legendX":21,"legendY":339,"direction":"horizontal","title":"Female condition","titleLimit":400,"titleOrient":"left","titleAnchor":"end","titleBaseline":"top","titleFontSize":25.5,"titleFontWeight":"normal","titleColor":"#1a1a1a","titlePadding":20,"gradientLength":84,"gradientThickness":16,"values":[0.1,0.3],"format":".1f","labelFontSize":16.5,"labelColor":"#1a1a1a","labelOffset":14,"gradientStrokeWidth":0}},"detail":{"field":"c","type":"nominal"}}}
   ]},
  {"width":42,"height":220,"view":{"fill":"#d4d4d4","stroke":"#8c8c8c","strokeWidth":1},"data":{"values":[{"lab":"363 d","px":0.5,"py":0.5}]},"mark":{"type":"text","angle":90,"fontSize":20,"color":"#333","align":"center","baseline":"middle"},"encoding":{"x":{"field":"px","type":"quantitative","scale":{"domain":[0,1]},"axis":null},"y":{"field":"py","type":"quantitative","scale":{"domain":[0,1]},"axis":null},"text":{"field":"lab"}}},
  {"width":38.3,"height":220,"view":{"stroke":null,"fill":null},"data":{"values":[{"px":0}]},"mark":{"type":"point","opacity":0},"encoding":{"x":{"field":"px","type":"quantitative","axis":null}}},
  {"width":363,"height":220,"view":{"stroke":"#1a1a1a","strokeWidth":1.4,"fill":"white"},
   "encoding":{"x":{"field":"c","type":"quantitative","scale":{"domain":[-0.003,0.3244],"nice":false,"zero":false},"axis":{"values":[0,0.1,0.2,0.3],"format":".1f","title":"Female condition","titleFontSize":26,"titlePadding":12,"labelPadding":3}},
     "y":{"field":"y","type":"quantitative","scale":{"domain":[-0.124,0.372],"nice":false,"zero":false},"axis":{"values":[-0.1,0,0.1,0.2,0.3],"labels":false,"title":null}}},
   "layer":[
    {"data":{"name":"B5"},"mark":{"type":"line","interpolate":"monotone","strokeWidth":0.9},"encoding":{"color":{"field":"a","type":"quantitative","scale":{"domain":[4.3,63.5],"range":["#dedede","#000000"],"interpolate":"lab"},"legend":{"type":"gradient","orient":"none","legendX":83,"legendY":341,"direction":"horizontal","title":"Age (y)","titleLimit":300,"titleOrient":"left","titleAnchor":"end","titleBaseline":"top","titleFontSize":25.5,"titleFontWeight":"normal","titleColor":"#1a1a1a","titlePadding":18,"gradientLength":83,"gradientThickness":15,"values":[10,35,60],"format":"d","labelFontSize":16.5,"labelColor":"#1a1a1a","labelOffset":14,"gradientStrokeWidth":0}},"detail":{"field":"a","type":"nominal"}}}
   ]},
  {"width":42,"height":220,"view":{"fill":"#d4d4d4","stroke":"#8c8c8c","strokeWidth":1},"data":{"values":[{"lab":"363 d","px":0.5,"py":0.5}]},"mark":{"type":"text","angle":90,"fontSize":20,"color":"#333","align":"center","baseline":"middle"},"encoding":{"x":{"field":"px","type":"quantitative","scale":{"domain":[0,1]},"axis":null},"y":{"field":"py","type":"quantitative","scale":{"domain":[0,1]},"axis":null},"text":{"field":"lab"}}}
]
}
